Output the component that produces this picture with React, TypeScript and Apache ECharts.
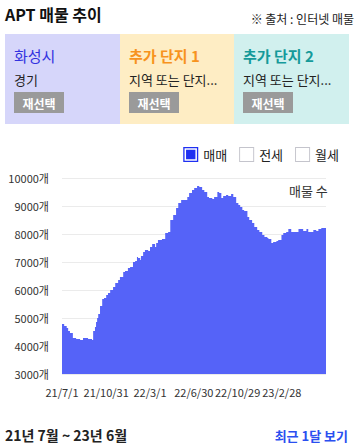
import React, { useEffect, useRef } from 'react';
import * as echarts from 'echarts';

const START_DATE = '2021-07-01';
const DAY_COUNT = 730;
const TICK_LABELS = ['21/7/1', '21/10/31', '22/3/1', '22/6/30', '22/10/29', '23/2/28'];

// day offset from START_DATE at which each listing count takes effect
const SAMPLE_DAYS = [
  0, 6, 13, 17, 22, 30, 39, 50, 58, 66, 72, 80, 83, 86, 91, 94, 97, 100, 105, 111,
  116, 122, 127, 133, 141, 147, 155, 160, 169, 174, 182, 188, 196, 202, 207, 210, 216, 218, 224, 229,
  238, 243, 249, 257, 260, 265, 276, 285, 293, 299, 307, 315, 321, 329, 337, 346, 351, 359, 365, 373,
  379, 387, 393, 401, 406, 415, 420, 429, 434, 440, 445, 453, 459, 467, 473, 481, 487, 492, 498, 503,
  512, 517, 525, 531, 539, 545, 553, 559, 567, 570, 578, 583, 592, 597, 606, 611, 619, 625, 633, 639,
  647, 653, 661, 666, 675, 680, 688, 694, 702, 708, 716, 722, 729,
];
const SAMPLE_VALUES = [
  4790, 4710, 4640, 4540, 4460, 4290, 4250, 4210, 4290, 4290, 4250, 4250, 4210, 4540, 4680, 4860, 5000, 5140, 5430, 5680,
  5710, 5820, 5890, 6000, 6110, 6250, 6360, 6460, 6640, 6680, 6790, 6820, 7000, 7040, 7180, 7140, 7070, 7210, 7360, 7430,
  7390, 7540, 7640, 7540, 7680, 7790, 7820, 8040, 8070, 8500, 8680, 8930, 9110, 9210, 9210, 9320, 9460, 9570, 9640, 9710,
  9680, 9570, 9500, 9320, 9290, 9250, 9320, 9500, 9460, 9290, 9360, 9390, 9360, 9430, 9320, 9110, 9040, 8960, 8860, 8820,
  8610, 8500, 8390, 8250, 8140, 8070, 7960, 7890, 7860, 7820, 7680, 7710, 7750, 7790, 7960, 8040, 8070, 8180, 8070, 8070,
  8070, 8180, 8180, 8110, 8180, 8070, 8070, 8140, 8110, 8180, 8210, 8210, 8210,
];

const Y_MIN = 3000;
const Y_MAX = 10000;
const Y_STEP = 1000;

const LEGEND_NAMES = ['매매', '전세', '월세'];
const REGION_TITLES = ['화성시', '추가 단지 1', '추가 단지 2'];
const REGION_SUBS = ['경기', '지역 또는 단지...', '지역 또는 단지...'];

const FONT = '"Noto Sans CJK KR", "Noto Sans", sans-serif';

function buildCategories(): string[] {
  const out: string[] = [];
  const base = new Date(START_DATE + 'T00:00:00Z').getTime();
  for (let i = 0; i < DAY_COUNT; i++) {
    const d = new Date(base + i * 86400000);
    out.push(`${String(d.getUTCFullYear()).slice(2)}/${d.getUTCMonth() + 1}/${d.getUTCDate()}`);
  }
  return out;
}

const CHECKED_ICON =
  'path://M0,0L16,0L16,16L0,16Z M1.4,1.4L1.4,14.6L14.6,14.6L14.6,1.4Z M3,3L13,3L13,13L3,13Z';
const UNCHECKED_ICON = 'path://M0,0L16,0L16,16L0,16Z M1,1L1,15L15,15L15,1Z';

export default function App() {
  const ref = useRef<HTMLDivElement>(null);

  useEffect(() => {
    if (!ref.current) return;
    const chart = echarts.init(ref.current, undefined, { renderer: 'svg' });
    const categories = buildCategories();
    const seriesData = SAMPLE_DAYS.map((d, i) => [d, SAMPLE_VALUES[i]]);

    const boxX = [5, 120, 234];
    const boxW = [115, 114, 115];
    const boxColors = ['#d6d6fa', '#feedc4', '#d1f0ee'];
    const titleColors = ['#3232e0', '#f7931e', '#159a9a'];

    const graphics: any[] = [
      {
        type: 'text', x: 5, y: 14,
        style: { text: 'APT 매물 추이', fill: '#111', fontSize: 16, fontWeight: 'bold', fontFamily: FONT, align: 'left', verticalAlign: 'middle' },
      },
      {
        type: 'text', x: 354, y: 18,
        style: { text: '※ 출처 : 인터넷 매물', fill: '#222', fontSize: 12, fontFamily: FONT, align: 'right', verticalAlign: 'middle' },
      },
      {
        type: 'text', x: 289, y: 190,
        style: { text: '매물 수', fill: '#333', fontSize: 13, fontFamily: FONT, align: 'left', verticalAlign: 'middle' },
      },
      {
        type: 'text', x: 5, y: 435,
        style: { text: '21년 7월 ~ 23년 6월', fill: '#222', fontSize: 14, fontWeight: 'bold', fontFamily: FONT, align: 'left', verticalAlign: 'middle' },
      },
      {
        type: 'text', x: 348, y: 435,
        style: { text: '최근 1달 보기', fill: '#2a4ff0', fontSize: 13, fontWeight: 'bold', fontFamily: FONT, align: 'right', verticalAlign: 'middle' },
      },
    ];
    for (let i = 0; i < 3; i++) {
      graphics.push({
        type: 'rect', shape: { x: boxX[i], y: 34, width: boxW[i], height: 90 },
        style: { fill: boxColors[i] }, z: 1,
      });
      graphics.push({
        type: 'text', x: boxX[i] + 9, y: 55, z: 2,
        style: { text: REGION_TITLES[i], fill: titleColors[i], fontSize: 15, fontWeight: i === 0 ? 'normal' : 'bold', fontFamily: FONT, align: 'left', verticalAlign: 'middle' },
      });
      graphics.push({
        type: 'text', x: boxX[i] + 9, y: 79, z: 2,
        style: { text: REGION_SUBS[i], fill: '#222', fontSize: 13, fontFamily: FONT, align: 'left', verticalAlign: 'middle' },
      });
      graphics.push({
        type: 'rect', shape: { x: boxX[i] + 9, y: 92, width: 50, height: 21 }, z: 2,
        style: { fill: '#9a9a9a' },
      });
      graphics.push({
        type: 'text', x: boxX[i] + 34, y: 103, z: 3,
        style: { text: '재선택', fill: '#fff', fontSize: 12, fontWeight: 'bold', fontFamily: FONT, align: 'center', verticalAlign: 'middle' },
      });
    }

    chart.setOption({
      animation: false,
      textStyle: { fontFamily: FONT },
      graphic: graphics,
      legend: {
        top: 142,
        right: 14,
        itemWidth: 15,
        itemHeight: 15,
        itemGap: 12,
        textStyle: { fontSize: 13, color: '#222', fontFamily: FONT },
        data: [
          { name: LEGEND_NAMES[0], icon: CHECKED_ICON, itemStyle: { color: '#1f30f2' } },
          { name: LEGEND_NAMES[1], icon: UNCHECKED_ICON, itemStyle: { color: '#c4c4cc' } },
          { name: LEGEND_NAMES[2], icon: UNCHECKED_ICON, itemStyle: { color: '#c4c4cc' } },
        ],
      },
      grid: { left: 62, right: 32, top: 178, bottom: 73 },
      xAxis: {
        type: 'category',
        data: categories,
        boundaryGap: false,
        axisLine: { show: false },
        axisTick: { show: false },
        axisLabel: {
          interval: (_i: number, v: string) => TICK_LABELS.includes(v),
          color: '#333',
          fontSize: 11,
          margin: 12,
          fontFamily: FONT,
        },
        splitLine: { show: false },
      },
      yAxis: {
        type: 'value',
        min: Y_MIN,
        max: Y_MAX,
        interval: Y_STEP,
        axisLine: { show: false },
        axisTick: { show: false },
        axisLabel: {
          formatter: (v: number) => `${v}개`,
          color: '#333',
          fontSize: 11,
          margin: 13,
          fontFamily: FONT,
        },
        splitLine: { lineStyle: { color: '#ebebeb', width: 1 } },
      },
      series: [
        {
          name: LEGEND_NAMES[0],
          type: 'line',
          step: 'end',
          symbol: 'none',
          data: seriesData,
          lineStyle: { width: 0 },
          areaStyle: { color: '#5563f8', opacity: 1, origin: 'start' },
          itemStyle: { color: '#5563f8' },
        },
        { name: LEGEND_NAMES[1], type: 'line', data: [] },
        { name: LEGEND_NAMES[2], type: 'line', data: [] },
      ],
    });

    return () => chart.dispose();
  }, []);

  return (
    <div
      ref={ref}
      style={{ position: 'absolute', left: 0, top: 0, width: 358, height: 447, background: '#fff' }}
    />
  );
}
